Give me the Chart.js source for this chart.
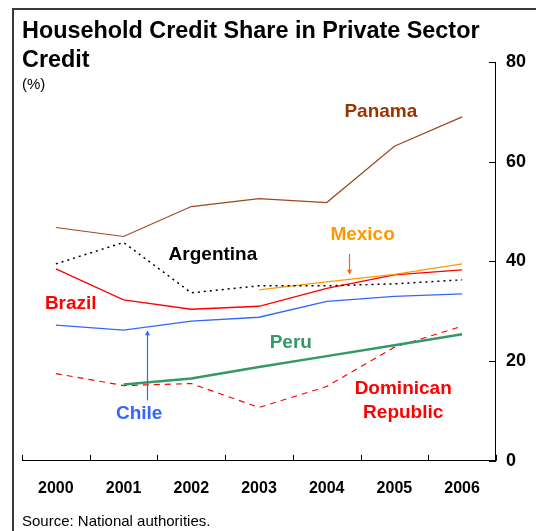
<!DOCTYPE html>
<html>
<head>
<meta charset="utf-8">
<script src="https://cdn.jsdelivr.net/npm/chart.js@4.4.1/dist/chart.umd.min.js"></script>
<style>
html, body { margin: 0; padding: 0; width: 536px; height: 531px; overflow: hidden; background: #fff; }
body { position: relative; font-family: "Liberation Sans", Arial, sans-serif; color: #000; }
#frame { position: absolute; left: 12px; top: 8px; width: 600px; height: 600px; border-left: 2px solid #3a3a3a; border-top: 2px solid #3a3a3a; }
#title { position: absolute; left: 22px; top: 16px; font-weight: bold; font-size: 23.4px; line-height: 29px; white-space: nowrap; }
#unit { position: absolute; left: 22px; top: 76px; font-size: 15px; line-height: 15px; }
#source { position: absolute; left: 22px; top: 513px; font-size: 15px; line-height: 15px; white-space: nowrap; }
canvas { position: absolute; left: 0; top: 0; }
</style>
</head>
<body>
<div id="frame"></div>
<canvas id="chart" width="536" height="531"></canvas>
<div id="title">Household Credit Share in Private Sector<br>Credit</div>
<div id="unit">(%)</div>
<div id="source">Source: National authorities.</div>
<script>
var years = ['2000', '2001', '2002', '2003', '2004', '2005', '2006'];
var panama = [46.8, 45.0, 51.0, 52.6, 51.8, 63.1, 69.0];
var argentina = [39.5, 43.8, 33.7, 35.1, 35.1, 35.5, 36.3];
var mexico = [null, null, null, 34.3, 35.9, 37.4, 39.5];
var brazil = [38.5, 32.3, 30.4, 31.0, 34.6, 37.3, 38.3];
var chile = [27.2, 26.2, 28.0, 28.8, 32.0, 33.0, 33.5];
var peru = [null, 15.3, 16.5, 18.8, 21.0, 23.2, 25.4];
var dominican = [17.5, 15.1, 15.5, 10.7, 14.9, 22.8, 27.0];
var yTicks = [0, 20, 40, 60, 80];

// series labels placed in data coordinates (category index, value)
var labels = [
    { text: ['Panama'], x: 4.8, y: 70.0, color: '#993300' },
    { text: ['Argentina'], x: 2.32, y: 41.3, color: '#000000' },
    { text: ['Mexico'], x: 4.53, y: 45.4, color: '#FF9900' },
    { text: ['Brazil'], x: 0.22, y: 31.6, color: '#FF0000' },
    { text: ['Peru'], x: 3.47, y: 23.6, color: '#339966' },
    { text: ['Chile'], x: 1.23, y: 9.5, color: '#3366FF' },
    { text: ['Dominican', 'Republic'], x: 5.13, y: 14.5, color: '#FF0000' }
];
var arrows = [
    { x: 4.33, from: 41.5, to: 37.3, color: '#FF6600' },
    { x: 1.35, from: 12.1, to: 26.2, color: '#3366FF' }
];

var annotate = {
    id: 'annotate',
    afterDraw: function (chart) {
        var ctx = chart.ctx;
        var xs = chart.scales.x;
        var ys = chart.scales.y;
        var area = chart.chartArea;
        ctx.save();

        // inward tick marks
        ctx.strokeStyle = '#000';
        ctx.lineWidth = 1;
        ctx.beginPath();
        for (var i = 0; i <= years.length; i++) {
            var px = Math.round(xs.getPixelForValue(i - 0.5)) + 0.5;
            ctx.moveTo(px, area.bottom);
            ctx.lineTo(px, area.bottom - 6);
        }
        yTicks.forEach(function (v) {
            var py = Math.round(ys.getPixelForValue(v)) + 0.5;
            ctx.moveTo(area.right, py);
            ctx.lineTo(area.right - 7, py);
        });
        ctx.stroke();

        // arrows
        arrows.forEach(function (a) {
            var ax = Math.round(xs.getPixelForValue(a.x)) + 0.5;
            var y1 = ys.getPixelForValue(a.from);
            var y2 = ys.getPixelForValue(a.to);
            var dir = y2 > y1 ? 1 : -1;
            ctx.strokeStyle = a.color;
            ctx.fillStyle = a.color;
            ctx.lineWidth = 1.2;
            ctx.beginPath();
            ctx.moveTo(ax, y1);
            ctx.lineTo(ax, y2 - dir * 3);
            ctx.stroke();
            ctx.beginPath();
            ctx.moveTo(ax, y2);
            ctx.lineTo(ax - 2.5, y2 - dir * 5);
            ctx.lineTo(ax + 2.5, y2 - dir * 5);
            ctx.closePath();
            ctx.fill();
        });

        // series labels
        ctx.font = 'bold 19px "Liberation Sans", Arial, sans-serif';
        ctx.textAlign = 'center';
        ctx.textBaseline = 'middle';
        labels.forEach(function (l) {
            ctx.fillStyle = l.color;
            var lx = xs.getPixelForValue(l.x);
            var ly = ys.getPixelForValue(l.y);
            l.text.forEach(function (t, k) {
                ctx.fillText(t, lx, ly + k * 24);
            });
        });
        ctx.restore();
    }
};

function line(label, data, color, width, dash) {
    return {
        label: label,
        data: data,
        borderColor: color,
        backgroundColor: color,
        borderWidth: width,
        borderDash: dash || [],
        pointRadius: 0,
        tension: 0,
        fill: false
    };
}

new Chart(document.getElementById('chart'), {
    type: 'line',
    data: {
        labels: years,
        datasets: [
            line('Panama', panama, '#A0461E', 1.2),
            line('Argentina', argentina, '#000000', 1.5, [2, 4]),
            line('Mexico', mexico, '#FF9900', 1.2),
            line('Brazil', brazil, '#FF0000', 1.3),
            line('Chile', chile, '#3366FF', 1.3),
            line('Peru', peru, '#339966', 2.5),
            line('Dominican Republic', dominican, '#FF0000', 1.2, [6, 5])
        ]
    },
    options: {
        responsive: false,
        animation: false,
        devicePixelRatio: 1,
        layout: { padding: { left: 22, right: 0, top: 62, bottom: 15 } },
        plugins: {
            legend: { display: false },
            tooltip: { enabled: false }
        },
        scales: {
            x: {
                offset: true,
                grid: { display: false, drawTicks: false },
                border: { display: true, color: '#000', width: 1 },
                ticks: {
                    color: '#000',
                    padding: 18,
                    maxRotation: 0,
                    font: { family: '"Liberation Sans", Arial, sans-serif', size: 16, weight: 'bold' }
                }
            },
            y: {
                position: 'right',
                min: 0,
                max: 80,
                grid: { display: false, drawTicks: false },
                border: { display: true, color: '#000', width: 1 },
                ticks: {
                    stepSize: 20,
                    color: '#000',
                    padding: 10,
                    font: { family: '"Liberation Sans", Arial, sans-serif', size: 18, weight: 'bold' }
                }
            }
        }
    },
    plugins: [annotate]
});
</script>
</body>
</html>
